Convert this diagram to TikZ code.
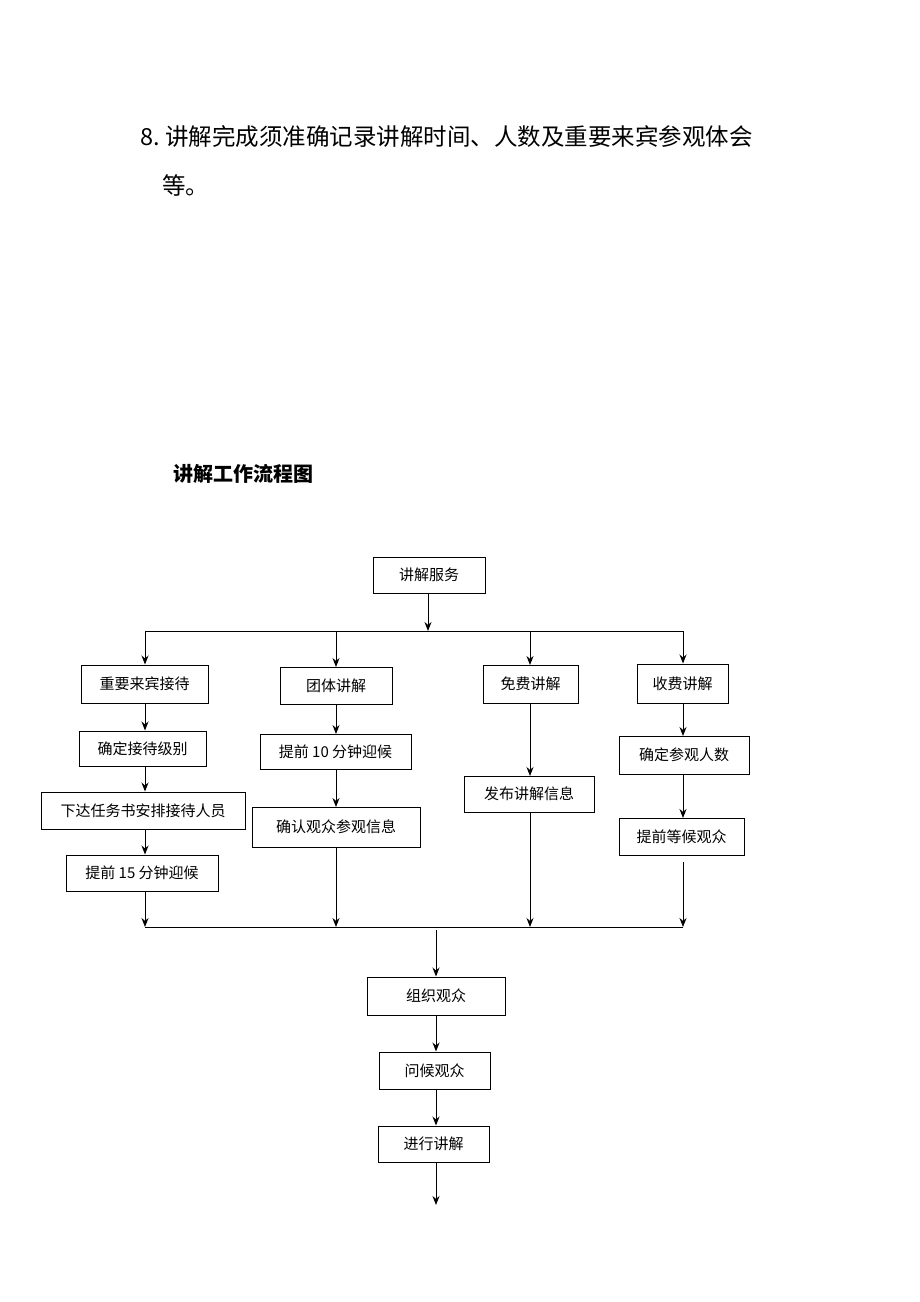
\documentclass[tikz,border=0pt]{standalone}
\usepackage{fontspec}
\setmainfont{Liberation Serif}
\newfontfamily\cjk{Noto Sans CJK SC}
\usetikzlibrary{arrows.meta}
\newcommand{\mybx}[6]{\node[bx,minimum width={#4-#2},minimum height={#5-#3}] (#1) at ({(#2+#4)/2},{(#3+#5)/2}) {#6};}
\begin{document}
\begin{tikzpicture}[x=1pt,y=-1pt,
  bx/.style={draw,line width=1pt,inner sep=0pt,font=\cjk\fontsize{15}{16}\selectfont},
  ar/.style={line width=1pt,-{Stealth[length=9pt,width=7pt]}},
  ln/.style={line width=1pt}]
\useasboundingbox (0,0) rectangle (920,1302);
\node[anchor=west,inner sep=0pt,font=\cjk\fontsize{23.5}{26}\selectfont] (t1) at (140,137) {8.\ 讲解完成须准确记录讲解时间、人数及重要来宾参观体会};
\node[anchor=west,inner sep=0pt,font=\cjk\fontsize{23.5}{26}\selectfont] (t2) at (162,185) {等。};
\node[anchor=west,inner sep=0pt,font=\cjk\bfseries\fontsize{20}{22}\selectfont] (title) at (173,474) {讲解工作流程图};
\mybx{s}{373}{557}{485}{593}{讲解服务}
\mybx{a1}{81}{665}{208}{703}{重要来宾接待}
\mybx{b1}{280}{667}{392}{704}{团体讲解}
\mybx{c1}{483}{665}{578}{703}{免费讲解}
\mybx{d1}{637}{664}{728}{703}{收费讲解}
\mybx{a2}{79}{731}{206}{766}{确定接待级别}
\mybx{a3}{41}{792}{245}{829}{下达任务书安排接待人员}
\mybx{a4}{66}{855}{218}{891}{提前 15 分钟迎候}
\mybx{b2}{260}{734}{411}{769}{提前 10 分钟迎候}
\mybx{b3}{252}{807}{420}{847}{确认观众参观信息}
\mybx{c2}{464}{776}{594}{812}{发布讲解信息}
\mybx{d2}{619}{736}{749}{774}{确定参观人数}
\mybx{d3}{619}{818}{744}{855}{提前等候观众}
\mybx{e1}{367}{977}{505}{1015}{组织观众}
\mybx{e2}{379}{1052}{490}{1089}{问候观众}
\mybx{e3}{378}{1126}{489}{1162}{进行讲解}
\coordinate (j) at (428,631);
\coordinate (tl) at (145,631); \coordinate (tr) at (683,631);
\coordinate (bl) at (145,927); \coordinate (br) at (683,927);
\coordinate (b2x) at (336,927); \coordinate (b3x) at (530,927);
\coordinate (eb) at (436,930); \coordinate (end) at (436,1205);
\draw[ar] (s.south -| j) -- (j);
\draw[ln] (tl) -- (tr);
\draw[ar] (tl) -- (tl |- a1.north);
\draw[ar] (336,631) -- (336,667);
\draw[ar] (530,631) -- (530,665);
\draw[ar] (tr) -- (tr |- d1.north);
\draw[ar] (a1.south -| tl) -- (a2.north -| tl);
\draw[ar] (a2.south -| tl) -- (a3.north -| tl);
\draw[ar] (a3.south -| tl) -- (a4.north -| tl);
\draw[ar] (a4.south -| tl) -- (bl);
\draw[ar] (336,704) -- (336,734);
\draw[ar] (336,769) -- (336,807);
\draw[ar] (336,847) -- (b2x);
\draw[ar] (530,703) -- (530,776);
\draw[ar] (530,812) -- (b3x);
\draw[ar] (683,703) -- (683,736);
\draw[ar] (683,774) -- (683,818);
\draw[ar] (683,862) -- (br);
\draw[ln] (bl) -- (br);
\draw[ar] (eb) -- (e1.north -| eb);
\draw[ar] (e1.south -| eb) -- (e2.north -| eb);
\draw[ar] (e2.south -| eb) -- (e3.north -| eb);
\draw[ar] (e3.south -| eb) -- (end);
\end{tikzpicture}
\end{document}
